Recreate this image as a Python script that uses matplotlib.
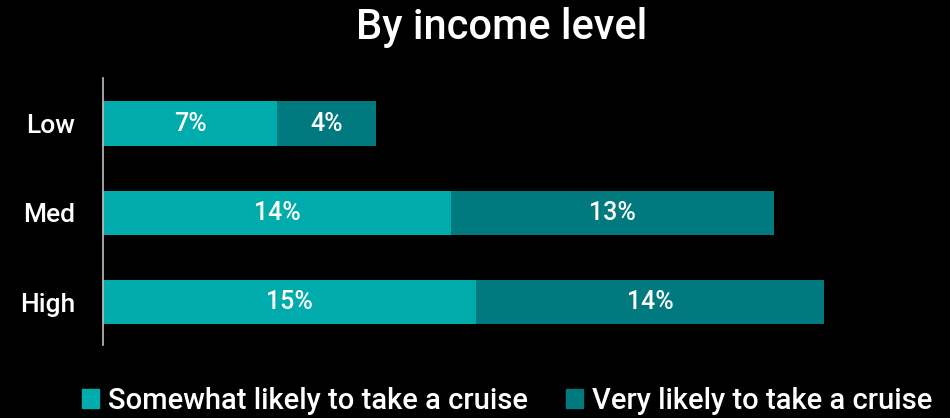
import matplotlib
matplotlib.use("Agg")
import matplotlib.pyplot as plt
from matplotlib.patches import Patch

plt.rcParams['font.family'] = ['Roboto', 'DejaVu Sans']
plt.rcParams['font.weight'] = 'medium'

groups = ["Low", "Med", "High"]
somewhat = [7, 14, 15]
very = [4, 13, 14]
series_names = ["Somewhat likely to take a cruise", "Very likely to take a cruise"]
colors = ["#00ABAB", "#00797F"]

fig = plt.figure(figsize=(9.5, 4.18), dpi=100, facecolor="black")
ax = fig.add_axes([103 / 950, 1 - 345 / 418, 830 / 950, 267 / 418])
ax.set_facecolor("black")

pos = range(len(groups))
ax.barh(pos, somewhat, height=0.5, color=colors[0])
ax.barh(pos, very, left=somewhat, height=0.5, color=colors[1])

# percentage labels centred in each segment
for i in pos:
    ax.text(somewhat[i] / 2, i, f"{somewhat[i]}%", ha="center", va="center",
            color="white", fontsize=18)
    ax.text(somewhat[i] + very[i] / 2, i, f"{very[i]}%", ha="center", va="center",
            color="white", fontsize=18)

ax.set_xlim(0, 830 / 24.86)
ax.set_ylim(2.48, -0.51)
ax.set_yticks(list(pos))
ax.set_yticklabels(groups, color="white", fontsize=19)
ax.tick_params(axis="y", length=0, pad=20)
ax.set_xticks([])
for side in ["top", "right", "bottom"]:
    ax.spines[side].set_visible(False)
ax.spines["left"].set_color("#BFBFBF")
ax.spines["left"].set_linewidth(1.2)

fig.text(502 / 950, 1 - 27 / 418, "By income level", ha="center", va="center",
         color="white", fontsize=30)

handles = [Patch(color=c) for c in colors]
fig.legend(handles, series_names, loc="center", bbox_to_anchor=(507 / 950, 1 - 401 / 418),
           ncol=2, frameon=False, fontsize=21, labelcolor="white",
           handlelength=0.6, handleheight=0.6, handletextpad=0.3, columnspacing=1.3)

fig.savefig("out.png", dpi=100, facecolor="black")
